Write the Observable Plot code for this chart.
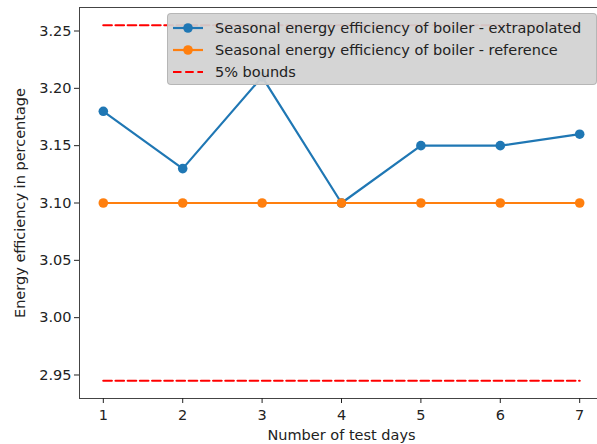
<!DOCTYPE html>
<html><head><meta charset="utf-8">
<script src="https://cdn.jsdelivr.net/npm/d3@7"></script>
<script src="https://cdn.jsdelivr.net/npm/@observablehq/plot@0.6"></script>
<style>
body{margin:0;background:#fff;overflow:hidden}
#wrap{position:relative;width:597px;height:444px;overflow:hidden}
#wrap svg{overflow:hidden}
.legend{position:absolute;left:167px;top:13px;width:430px;height:72px;background:rgba(210,210,210,0.93);border:1px solid rgba(180,180,180,0.95);border-radius:4px;box-sizing:border-box;font-family:"DejaVu Sans",sans-serif;font-size:14.5px;color:#222}
.row{position:absolute;left:5px;height:16px;display:flex;align-items:center;white-space:nowrap}
.row svg{margin-right:12px;overflow:visible}
</style></head>
<body><div id="wrap"></div>
<script>
const days = [1, 2, 3, 4, 5, 6, 7];
const extrapolated = [3.18, 3.13, 3.21, 3.10, 3.15, 3.15, 3.16];
const reference = [3.10, 3.10, 3.10, 3.10, 3.10, 3.10, 3.10];
const boundDays = [1, 7];
const upperBound = [3.255, 3.255];
const lowerBound = [2.945, 2.945];
const yTicks = [2.95, 3.00, 3.05, 3.10, 3.15, 3.20, 3.25];
const seriesNames = ["Seasonal energy efficiency of boiler - extrapolated", "Seasonal energy efficiency of boiler - reference", "5% bounds"];
const colors = ["#1f77b4", "#ff7f0e", "#ff0000"];

const ext = days.map((d, i) => ({day: d, value: extrapolated[i]}));
const ref = days.map((d, i) => ({day: d, value: reference[i]}));
const up = boundDays.map((d, i) => ({day: d, value: upperBound[i]}));
const lo = boundDays.map((d, i) => ({day: d, value: lowerBound[i]}));

const dash = "8.5,3.7";
const chart = Plot.plot({
  width: 597, height: 444,
  marginLeft: 79, marginTop: 7, marginBottom: 46, marginRight: -6,
  style: {fontFamily: "DejaVu Sans, sans-serif", fontSize: "14.5px", color: "#222", background: "#fff", overflow: "hidden"},
  x: {domain: [0.7, 7.3]},
  y: {domain: [2.9295, 3.2705]},
  marks: [
    Plot.line(ext, {x: "day", y: "value", stroke: colors[0], strokeWidth: 2.2}),
    Plot.dot(ext, {x: "day", y: "value", r: 4.8, fill: colors[0], stroke: "none"}),
    Plot.line(ref, {x: "day", y: "value", stroke: colors[1], strokeWidth: 2.2}),
    Plot.dot(ref, {x: "day", y: "value", r: 4.8, fill: colors[1], stroke: "none"}),
    Plot.line(up, {x: "day", y: "value", stroke: colors[2], strokeWidth: 2.2, strokeDasharray: dash}),
    Plot.line(lo, {x: "day", y: "value", stroke: colors[2], strokeWidth: 2.2, strokeDasharray: dash}),
    Plot.frame({stroke: "#444", strokeWidth: 1}),
    Plot.axisX({ticks: days, tickSize: 5, tickPadding: 6, tickFormat: d => String(d), label: "Number of test days", labelAnchor: "center", labelArrow: "none", labelOffset: 41, fontSize: 14.5}),
    Plot.axisY({ticks: yTicks, tickSize: 5, tickPadding: 3, tickFormat: d3.format(".2f"), label: "Energy efficiency in percentage", labelAnchor: "center", labelArrow: "none", labelOffset: 65, fontSize: 14.5})
  ]
});
const wrap = document.getElementById("wrap");
wrap.appendChild(chart);

const legend = document.createElement("div");
legend.className = "legend";
seriesNames.forEach((name, i) => {
  const row = document.createElement("div");
  row.className = "row";
  row.style.top = (6 + i * 22) + "px";
  const marker = i < 2 ? `<circle cx="15" cy="8" r="4.8" fill="${colors[i]}"/>` : "";
  const d = i === 2 ? ` stroke-dasharray="${dash}"` : "";
  row.innerHTML = `<svg width="30" height="16"><line x1="0" x2="30" y1="8" y2="8" stroke="${colors[i]}" stroke-width="2.2"${d}/>${marker}</svg><span>${name}</span>`;
  legend.appendChild(row);
});
wrap.appendChild(legend);
</script></body></html>
